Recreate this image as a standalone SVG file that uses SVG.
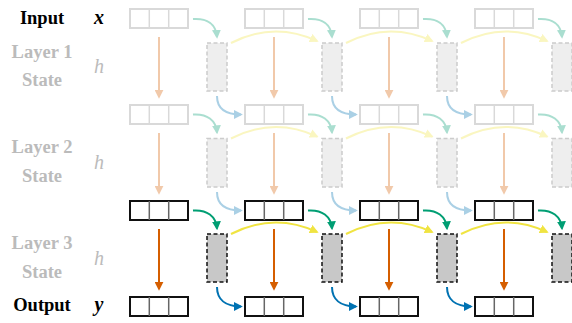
<svg xmlns="http://www.w3.org/2000/svg" width="572" height="323" viewBox="0 0 572 323">
<style>
.lbl{font-family:"Liberation Serif","Times New Roman",serif;font-weight:bold;font-size:18.5px;text-anchor:middle}
.math{font-family:"Liberation Serif","Times New Roman",serif;font-style:italic;font-size:20px;text-anchor:middle}
.dark{fill:#000}
.pale{fill:#bbbbbb}
.boxF rect{fill:#fff;stroke:#d9d9d9;stroke-width:2}
.boxF line{stroke:#d9d9d9;stroke-width:1.5}
.boxD rect{fill:#fff;stroke:#111;stroke-width:2}
.boxD line{stroke:#666;stroke-width:1.5}
.stF{fill:#eeeeee;stroke:#cccccc;stroke-width:1.5;stroke-dasharray:4 2.5}
.stD{fill:#c8c8c8;stroke:#111;stroke-width:1.5;stroke-dasharray:4 2.5}
.c{fill:none;stroke-width:2}
.g{stroke:#009e73}
.yl{stroke:#f0e442}
.o{stroke:#d55e00}
.b{stroke:#0072b2}
.faded{opacity:0.33}
</style>
<defs>
<marker id="mg" viewBox="0 0 10 10" refX="8" refY="5" markerWidth="9" markerHeight="9" markerUnits="userSpaceOnUse" orient="auto"><path d="M0,0 L10,5 L0,10 z" fill="#009e73"/></marker>
<marker id="my" viewBox="0 0 10 10" refX="8" refY="5" markerWidth="9" markerHeight="9" markerUnits="userSpaceOnUse" orient="auto"><path d="M0,0 L10,5 L0,10 z" fill="#f0e442"/></marker>
<marker id="mo" viewBox="0 0 10 10" refX="8" refY="5" markerWidth="9" markerHeight="9" markerUnits="userSpaceOnUse" orient="auto"><path d="M0,0 L10,5 L0,10 z" fill="#d55e00"/></marker>
<marker id="mb" viewBox="0 0 10 10" refX="8" refY="5" markerWidth="9" markerHeight="9" markerUnits="userSpaceOnUse" orient="auto"><path d="M0,0 L10,5 L0,10 z" fill="#0072b2"/></marker>
<g id="cellsF" class="boxF"><rect x="0" y="0" width="58" height="19"/><line x1="19.3" y1="0" x2="19.3" y2="19"/><line x1="38.7" y1="0" x2="38.7" y2="19"/></g>
<g id="cellsD" class="boxD"><rect x="0" y="0" width="58" height="19"/><line x1="19.3" y1="0" x2="19.3" y2="19"/><line x1="38.7" y1="0" x2="38.7" y2="19"/></g>
</defs>

<g id="labels">
<text class="lbl dark" x="42" y="24">Input</text>
<text class="math dark" x="99" y="24" font-weight="bold">x</text>
<text class="lbl pale" x="42" y="58">Layer 1</text>
<text class="lbl pale" x="42" y="86">State</text>
<text class="math pale" x="99" y="73">h</text>
<text class="lbl pale" x="42" y="153">Layer 2</text>
<text class="lbl pale" x="42" y="181.5">State</text>
<text class="math pale" x="99" y="169">h</text>
<text class="lbl pale" x="42" y="249">Layer 3</text>
<text class="lbl pale" x="42" y="277.5">State</text>
<text class="math pale" x="99" y="265">h</text>
<text class="lbl dark" x="42" y="311">Output</text>
<text class="math dark" x="99" y="311" font-weight="bold">y</text>
</g>

<g id="connectors">
<g class="faded">
<!-- layer 1 -->
<g id="l1">
<path class="c g" d="M193,19 C207,18 216,24 217,37" marker-end="url(#mg)"/>
<path class="c g" d="M308,19 C322,18 331,24 332,37" marker-end="url(#mg)"/>
<path class="c g" d="M423,19 C437,18 446,24 447,37" marker-end="url(#mg)"/>
<path class="c g" d="M538,19 C552,18 561,24 562,37" marker-end="url(#mg)"/>
<path class="c yl" d="M231,43 Q274,21 317,41" marker-end="url(#my)"/>
<path class="c yl" d="M346,43 Q389,21 432,41" marker-end="url(#my)"/>
<path class="c yl" d="M461,43 Q504,21 547,41" marker-end="url(#my)"/>
<path class="c o" d="M159,37 V97" marker-end="url(#mo)"/>
<path class="c o" d="M274,37 V97" marker-end="url(#mo)"/>
<path class="c o" d="M389,37 V97" marker-end="url(#mo)"/>
<path class="c o" d="M504,37 V97" marker-end="url(#mo)"/>
<path class="c b" d="M217,96 C217,108 225,114.5 241,114.5" marker-end="url(#mb)"/>
<path class="c b" d="M332,96 C332,108 340,114.5 356,114.5" marker-end="url(#mb)"/>
<path class="c b" d="M447,96 C447,108 455,114.5 471,114.5" marker-end="url(#mb)"/>
</g>
<!-- layer 2 -->
<g id="l2">
<path class="c g" d="M193,114.5 C207,113.5 216,120 217,132.5" marker-end="url(#mg)"/>
<path class="c g" d="M308,114.5 C322,113.5 331,120 332,132.5" marker-end="url(#mg)"/>
<path class="c g" d="M423,114.5 C437,113.5 446,120 447,132.5" marker-end="url(#mg)"/>
<path class="c g" d="M538,114.5 C552,113.5 561,120 562,132.5" marker-end="url(#mg)"/>
<path class="c yl" d="M231,138.5 Q274,116.5 317,136.5" marker-end="url(#my)"/>
<path class="c yl" d="M346,138.5 Q389,116.5 432,136.5" marker-end="url(#my)"/>
<path class="c yl" d="M461,138.5 Q504,116.5 547,136.5" marker-end="url(#my)"/>
<path class="c o" d="M159,133 V193" marker-end="url(#mo)"/>
<path class="c o" d="M274,133 V193" marker-end="url(#mo)"/>
<path class="c o" d="M389,133 V193" marker-end="url(#mo)"/>
<path class="c o" d="M504,133 V193" marker-end="url(#mo)"/>
<path class="c b" d="M217,192 C217,204 225,210.5 241,210.5" marker-end="url(#mb)"/>
<path class="c b" d="M332,192 C332,204 340,210.5 356,210.5" marker-end="url(#mb)"/>
<path class="c b" d="M447,192 C447,204 455,210.5 471,210.5" marker-end="url(#mb)"/>
</g>
</g>
<!-- layer 3 -->
<g id="l3">
<path class="c g" d="M193,210.5 C207,209.5 216,216 217,228.5" marker-end="url(#mg)"/>
<path class="c g" d="M308,210.5 C322,209.5 331,216 332,228.5" marker-end="url(#mg)"/>
<path class="c g" d="M423,210.5 C437,209.5 446,216 447,228.5" marker-end="url(#mg)"/>
<path class="c g" d="M538,210.5 C552,209.5 561,216 562,228.5" marker-end="url(#mg)"/>
<path class="c yl" d="M231,234 Q274,212 317,232" marker-end="url(#my)"/>
<path class="c yl" d="M346,234 Q389,212 432,232" marker-end="url(#my)"/>
<path class="c yl" d="M461,234 Q504,212 547,232" marker-end="url(#my)"/>
<path class="c o" d="M159,229 V289" marker-end="url(#mo)"/>
<path class="c o" d="M274,229 V289" marker-end="url(#mo)"/>
<path class="c o" d="M389,229 V289" marker-end="url(#mo)"/>
<path class="c o" d="M504,229 V289" marker-end="url(#mo)"/>
<path class="c b" d="M217,287 C217,299 225,306.5 241,306.5" marker-end="url(#mb)"/>
<path class="c b" d="M332,287 C332,299 340,306.5 356,306.5" marker-end="url(#mb)"/>
<path class="c b" d="M447,287 C447,299 455,306.5 471,306.5" marker-end="url(#mb)"/>
</g>
</g>

<g id="x1"><use href="#cellsF" x="130" y="9"/></g>
<g id="x2"><use href="#cellsF" x="245" y="9"/></g>
<g id="x3"><use href="#cellsF" x="360" y="9"/></g>
<g id="x4"><use href="#cellsF" x="475" y="9"/></g>

<g id="s1_1"><rect class="stF" x="207" y="43" width="20" height="48"/></g>
<g id="s1_2"><rect class="stF" x="322" y="43" width="20" height="48"/></g>
<g id="s1_3"><rect class="stF" x="437" y="43" width="20" height="48"/></g>
<g id="s1_4"><rect class="stF" x="552" y="43" width="20" height="48"/></g>

<g id="h1_1"><use href="#cellsF" x="130" y="105"/></g>
<g id="h1_2"><use href="#cellsF" x="245" y="105"/></g>
<g id="h1_3"><use href="#cellsF" x="360" y="105"/></g>
<g id="h1_4"><use href="#cellsF" x="475" y="105"/></g>

<g id="s2_1"><rect class="stF" x="207" y="138.5" width="20" height="48.5"/></g>
<g id="s2_2"><rect class="stF" x="322" y="138.5" width="20" height="48.5"/></g>
<g id="s2_3"><rect class="stF" x="437" y="138.5" width="20" height="48.5"/></g>
<g id="s2_4"><rect class="stF" x="552" y="138.5" width="20" height="48.5"/></g>

<g id="h2_1"><use href="#cellsD" x="130" y="201"/></g>
<g id="h2_2"><use href="#cellsD" x="245" y="201"/></g>
<g id="h2_3"><use href="#cellsD" x="360" y="201"/></g>
<g id="h2_4"><use href="#cellsD" x="475" y="201"/></g>

<g id="s3_1"><rect class="stD" x="207" y="234" width="20" height="48"/></g>
<g id="s3_2"><rect class="stD" x="322" y="234" width="20" height="48"/></g>
<g id="s3_3"><rect class="stD" x="437" y="234" width="20" height="48"/></g>
<g id="s3_4"><rect class="stD" x="552" y="234" width="20" height="48"/></g>

<g id="y1"><use href="#cellsD" x="130" y="297"/></g>
<g id="y2"><use href="#cellsD" x="245" y="297"/></g>
<g id="y3"><use href="#cellsD" x="360" y="297"/></g>
<g id="y4"><use href="#cellsD" x="475" y="297"/></g>
</svg>
